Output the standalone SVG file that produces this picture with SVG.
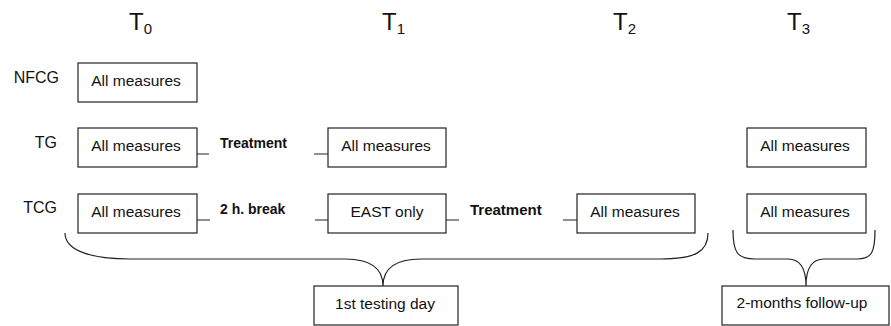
<svg xmlns="http://www.w3.org/2000/svg" width="891" height="326" viewBox="0 0 891 326">
<style>
  text { font-family: "Liberation Sans", Arial, sans-serif; fill: #111; }
  .box { fill: #fff; stroke: #222; stroke-width: 1.2; }
  .lbl { font-size: 15.5px; text-anchor: middle; }
  .row { font-size: 16px; text-anchor: end; }
  .tp { font-size: 24px; }
  .sub { font-size: 15px; }
  .act { font-size: 14px; font-weight: bold; }
  .conn { fill: none; stroke: #222; stroke-width: 1.2; }
</style>
<rect width="891" height="326" fill="#fff"/>
<g id="timepoints">
  <text class="tp" x="129" y="30">T<tspan class="sub" dy="3.5">0</tspan></text>
  <text class="tp" x="382" y="30">T<tspan class="sub" dy="3.5">1</tspan></text>
  <text class="tp" x="613" y="30">T<tspan class="sub" dy="3.5">2</tspan></text>
  <text class="tp" x="787" y="30">T<tspan class="sub" dy="3.5">3</tspan></text>
</g>
<g id="rowlabels">
  <text class="row" x="59" y="83">NFCG</text>
  <text class="row" x="57" y="148">TG</text>
  <text class="row" x="57" y="213">TCG</text>
</g>
<g id="connectors">
  <path class="conn" d="M197,154 H209 M314,154 H328"/>
  <path class="conn" d="M197,220 H210 M315,220 H328"/>
  <path class="conn" d="M446,220 H459 M563,220 H577"/>
  <path class="conn" d="M65,233 C65,252 95,259 130,259 H345 C370,259 383,268 383,286 C383,268 396,259 421,259 H660 C695,259 708,252 708,233"/>
  <path class="conn" d="M733,230 C733,252 737,259 755,259 H788 C800,259 806,268 806,286 C806,268 812,259 824,259 H857 C872,259 875,252 875,230"/>
</g>
<g id="labels-actions">
  <text class="act" x="220" y="148">Treatment</text>
  <text class="act" x="220" y="214">2 h. break</text>
  <text class="act" x="470" y="215" style="font-size:15px">Treatment</text>
</g>
<g id="nfcg-t0">
  <rect class="box" x="78" y="63" width="119" height="39"/>
  <text class="lbl" x="136" y="86">All measures</text>
</g>
<g id="tg-t0">
  <rect class="box" x="78" y="128" width="119" height="39"/>
  <text class="lbl" x="136" y="151">All measures</text>
</g>
<g id="tg-t1">
  <rect class="box" x="328" y="128" width="118" height="39"/>
  <text class="lbl" x="386" y="151">All measures</text>
</g>
<g id="tg-t3">
  <rect class="box" x="747" y="128" width="119" height="39"/>
  <text class="lbl" x="805" y="151">All measures</text>
</g>
<g id="tcg-t0">
  <rect class="box" x="78" y="194" width="119" height="39"/>
  <text class="lbl" x="136" y="217">All measures</text>
</g>
<g id="tcg-t1">
  <rect class="box" x="328" y="194" width="118" height="39"/>
  <text class="lbl" x="387" y="217">EAST only</text>
</g>
<g id="tcg-t2">
  <rect class="box" x="577" y="194" width="118" height="39"/>
  <text class="lbl" x="635" y="217">All measures</text>
</g>
<g id="tcg-t3">
  <rect class="box" x="747" y="194" width="119" height="39"/>
  <text class="lbl" x="805" y="217">All measures</text>
</g>
<g id="day1">
  <rect class="box" x="314" y="286" width="144" height="39"/>
  <text class="lbl" x="385" y="309">1st testing day</text>
</g>
<g id="followup">
  <rect class="box" x="722" y="286" width="167" height="39"/>
  <text class="lbl" x="802" y="308">2-months follow-up</text>
</g>
</svg>
